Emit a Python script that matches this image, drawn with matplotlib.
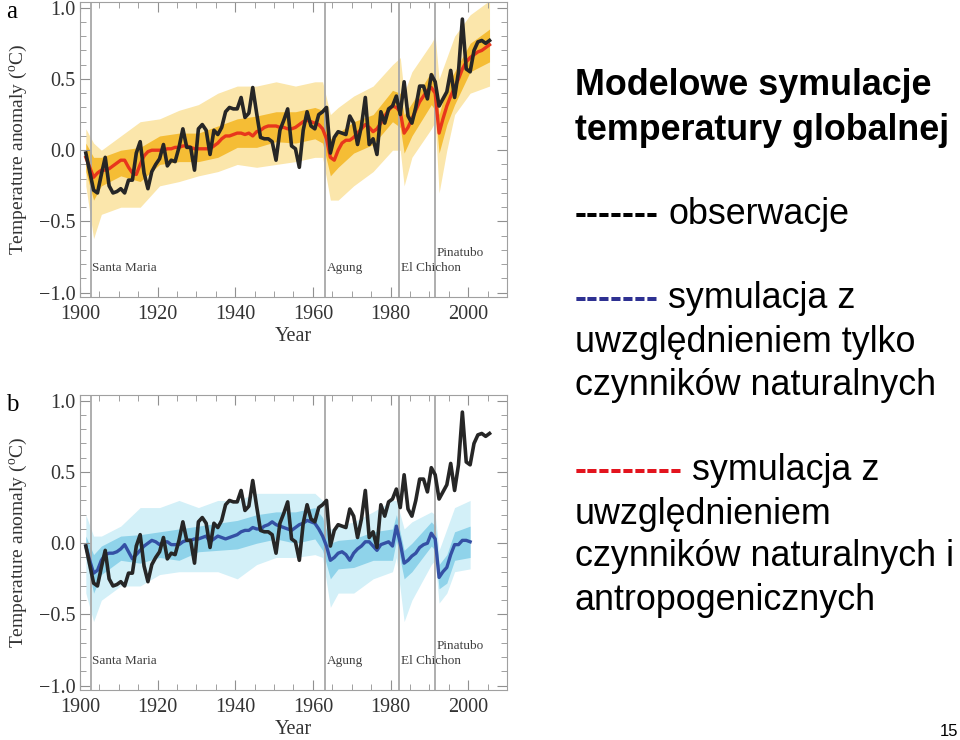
import matplotlib.pyplot as plt
import numpy as np
from matplotlib.ticker import MultipleLocator

plt.rcParams['font.family'] = ['Liberation Serif', 'DejaVu Serif']
plt.rcParams['mathtext.fontset'] = 'custom'
plt.rcParams['mathtext.rm'] = 'Liberation Serif'

# obserwacje (roczne anomalie), 1901-2005
years = np.arange(1901, 2006)
obs = [-0.02, -0.15, -0.28, -0.30, -0.17, -0.05, -0.25, -0.30, -0.29, -0.27,
       -0.30, -0.21, -0.21, -0.02, 0.06, -0.16, -0.27, -0.15, -0.10, -0.06,
       0.04, -0.11, -0.07, -0.08, 0.02, 0.15, 0.02, 0.02, -0.14, 0.15,
       0.18, 0.14, -0.03, 0.14, 0.11, 0.16, 0.27, 0.30, 0.29, 0.29,
       0.37, 0.23, 0.26, 0.44, 0.26, 0.09, 0.08, 0.08, 0.06, -0.07,
       0.14, 0.21, 0.29, 0.03, 0.01, -0.12, 0.14, 0.27, 0.17, 0.15,
       0.25, 0.27, 0.30, -0.02, 0.09, 0.13, 0.12, 0.11, 0.24, 0.19,
       0.04, 0.17, 0.37, 0.04, 0.08, -0.03, 0.27, 0.19, 0.29, 0.31,
       0.38, 0.25, 0.48, 0.24, 0.19, 0.30, 0.45, 0.45, 0.36, 0.53,
       0.48, 0.31, 0.36, 0.41, 0.56, 0.37, 0.55, 0.92, 0.57, 0.55,
       0.70, 0.76, 0.77, 0.75, 0.77]

# srednia symulacji: czynniki naturalne i antropogeniczne, 1901-2005
all_mean = [-0.05, -0.12, -0.19, -0.16, -0.14, -0.14, -0.13, -0.11, -0.09, -0.07,
            -0.07, -0.12, -0.16, -0.17, -0.10, -0.04, -0.01, 0.00, 0.00, 0.00,
            0.00, 0.01, 0.01, 0.02, 0.02, 0.03, 0.03, 0.02, 0.01, 0.01,
            0.01, 0.01, 0.01, 0.03, 0.05, 0.08, 0.10, 0.10, 0.11, 0.12,
            0.12, 0.11, 0.12, 0.10, 0.13, 0.14, 0.16, 0.17, 0.17, 0.17,
            0.16, 0.16, 0.15, 0.15, 0.16, 0.18, 0.20, 0.21, 0.20, 0.19,
            0.18, 0.15, 0.08, -0.05, -0.07, 0.00, 0.05, 0.07, 0.07, 0.09,
            0.12, 0.15, 0.18, 0.16, 0.13, 0.15, 0.19, 0.24, 0.28, 0.31,
            0.30, 0.27, 0.12, 0.16, 0.22, 0.28, 0.34, 0.38, 0.42, 0.44,
            0.40, 0.12, 0.22, 0.31, 0.38, 0.44, 0.50, 0.57, 0.62, 0.65,
            0.67, 0.69, 0.70, 0.72, 0.74]

# srednia symulacji: tylko czynniki naturalne, 1901-2000
nat_years = np.arange(1901, 2001)
nat_mean = [-0.02, -0.12, -0.21, -0.19, -0.12, -0.08, -0.07, -0.07, -0.06, -0.04,
            -0.01, -0.06, -0.11, -0.08, -0.05, -0.02, 0.00, 0.02, 0.01, -0.01,
            0.01, 0.01, -0.01, -0.01, -0.01, 0.01, 0.02, 0.02, 0.03, 0.03,
            0.04, 0.05, 0.01, 0.03, 0.05, 0.04, 0.03, 0.04, 0.05, 0.06,
            0.08, 0.09, 0.09, 0.11, 0.10, 0.10, 0.12, 0.13, 0.15, 0.13,
            0.12, 0.11, 0.10, 0.09, 0.11, 0.13, 0.14, 0.16, 0.15, 0.14,
            0.10, 0.05, -0.02, -0.12, -0.10, -0.07, -0.06, -0.08, -0.12, -0.07,
            -0.04, -0.02, 0.01, 0.01, -0.02, -0.05, -0.01, 0.00, 0.01, -0.02,
            0.12, 0.00, -0.14, -0.12, -0.09, -0.07, -0.03, -0.01, 0.00, 0.07,
            0.03, -0.24, -0.20, -0.17, -0.08, -0.01, -0.01, 0.02, 0.02, 0.01]

# rozrzut ensemble (zakres zewnetrzny i gesty rdzen)
all_env_years = [1901, 1903, 1905, 1910, 1915, 1920, 1925, 1930, 1935, 1940,
                 1945, 1950, 1955, 1960, 1962, 1964, 1966, 1970, 1975, 1980,
                 1982, 1983, 1985, 1990, 1991, 1992, 1994, 1996, 2000, 2005]
all_hi = [0.15, 0.05, 0.00, 0.10, 0.20, 0.22, 0.28, 0.32, 0.40, 0.45,
          0.45, 0.48, 0.45, 0.48, 0.48, 0.25, 0.30, 0.38, 0.45, 0.60,
          0.65, 0.40, 0.55, 0.75, 0.80, 0.50, 0.65, 0.80, 0.95, 1.05]
all_lo = [-0.25, -0.62, -0.45, -0.40, -0.40, -0.25, -0.22, -0.18, -0.15, -0.10,
          -0.12, -0.10, -0.08, -0.05, -0.05, -0.35, -0.35, -0.25, -0.15, 0.00,
          0.00, -0.25, -0.05, 0.15, 0.20, -0.30, 0.00, 0.25, 0.40, 0.45]
all_core_hi = [0.05, -0.05, -0.05, 0.00, 0.02, 0.10, 0.12, 0.12, 0.17, 0.22,
               0.24, 0.27, 0.27, 0.30, 0.28, 0.08, 0.12, 0.20, 0.25, 0.42,
               0.40, 0.25, 0.33, 0.55, 0.52, 0.25, 0.45, 0.55, 0.75, 0.85]
all_core_lo = [-0.15, -0.35, -0.25, -0.18, -0.22, -0.10, -0.08, -0.08, -0.05, 0.02,
               0.02, 0.06, 0.05, 0.08, 0.05, -0.18, -0.12, -0.02, 0.04, 0.20,
               0.16, -0.02, 0.10, 0.32, 0.28, -0.02, 0.18, 0.32, 0.55, 0.62]

nat_env_years = [1901, 1903, 1905, 1910, 1915, 1920, 1925, 1930, 1935, 1940,
                 1945, 1950, 1955, 1960, 1962, 1964, 1966, 1970, 1975, 1980,
                 1981, 1983, 1985, 1990, 1991, 1992, 1994, 1996, 2000]
nat_hi = [0.20, 0.05, 0.05, 0.12, 0.25, 0.25, 0.30, 0.25, 0.30, 0.30,
          0.35, 0.35, 0.35, 0.35, 0.30, 0.10, 0.12, 0.15, 0.22, 0.30,
          0.30, 0.10, 0.15, 0.22, 0.20, -0.05, 0.10, 0.25, 0.30]
nat_lo = [-0.35, -0.55, -0.40, -0.30, -0.30, -0.22, -0.20, -0.20, -0.20, -0.25,
          -0.15, -0.10, -0.10, -0.08, -0.10, -0.45, -0.35, -0.35, -0.25, -0.20,
          -0.10, -0.55, -0.40, -0.15, -0.12, -0.42, -0.35, -0.20, -0.18]
nat_core_hi = [0.05, -0.08, -0.02, 0.05, 0.06, 0.08, 0.10, 0.12, 0.14, 0.16,
               0.20, 0.22, 0.22, 0.25, 0.18, 0.00, 0.02, 0.03, 0.08, 0.10,
               0.20, -0.05, 0.00, 0.15, 0.12, -0.15, -0.08, 0.08, 0.12]
nat_core_lo = [-0.10, -0.35, -0.22, -0.12, -0.14, -0.10, -0.12, -0.06, -0.05, -0.04,
               0.00, 0.03, 0.00, 0.03, -0.05, -0.25, -0.18, -0.17, -0.12, -0.12,
               0.02, -0.25, -0.20, -0.02, -0.05, -0.32, -0.28, -0.12, -0.10]

# erupcje wulkanow
volc_names = ['Santa Maria', 'Agung', 'El Chichon', 'Pinatubo']
volc_dates = [1902.8, 1963.2, 1982.3, 1991.5]
volc_label_y = [-0.83, -0.83, -0.83, -0.72]


def draw_panel(ax, mean_years, mean, mean_color, env, env_colors):
    env_years, lo, hi, core_lo, core_hi = env
    ax.fill_between(np.array(env_years) + 0.5, lo, hi, color=env_colors[0],
                    lw=0, zorder=1)
    ax.fill_between(np.array(env_years) + 0.5, core_lo, core_hi,
                    color=env_colors[1], lw=0, zorder=1.2)
    for name, d, ly in zip(volc_names, volc_dates, volc_label_y):
        ax.axvline(d, color='#a8a8a8', lw=1.3, zorder=2)
        ax.text(d + 0.3, ly, name, fontsize=9.5, color='#404040',
                ha='left', va='center')
    # roczne wartosci rysowane w polowie roku
    ax.plot(mean_years + 0.5, mean, color=mean_color, lw=2.4, zorder=3)
    ax.plot(years + 0.5, obs, color='#262626', lw=2.6, zorder=4)

    ax.set_xlim(1900, 2010)
    ax.set_ylim(-1.03, 1.04)
    ax.xaxis.set_major_locator(MultipleLocator(20))
    ax.xaxis.set_minor_locator(MultipleLocator(5))
    ax.yaxis.set_minor_locator(MultipleLocator(0.1))
    ax.set_yticks([-1.0, -0.5, 0.0, 0.5, 1.0])
    ax.set_yticklabels(['\u22121.0', '\u22120.5', '0.0', '0.5', '1.0'])
    ax.tick_params(which='both', direction='in', top=True, right=True,
                   color='#909090', labelsize=14.5, labelcolor='#333333')
    ax.tick_params(which='major', length=7)
    ax.tick_params(which='minor', length=4)
    ax.tick_params(axis='x', which='major', pad=6)
    for s in ax.spines.values():
        s.set_color('#a0a0a0')
    ax.set_xlabel('Year', fontsize=14.5, color='#333333', labelpad=2)
    ax.set_ylabel('Temperature anomaly ($^{\\rm o}$C)', fontsize=14,
                  color='#333333', labelpad=6)


fig = plt.figure(figsize=(9.6, 7.4), dpi=100)

ax_a = fig.add_axes([80 / 960, 1 - 297 / 740, 427 / 960, 295 / 740])
draw_panel(ax_a, years, all_mean, '#e8361c',
           (all_env_years, all_lo, all_hi, all_core_lo, all_core_hi),
           ('#fbe6ab', '#f5bd35'))

ax_b = fig.add_axes([80 / 960, 1 - 690 / 740, 427 / 960, 295 / 740])
draw_panel(ax_b, nat_years, nat_mean, '#3450a4',
           (nat_env_years, nat_lo, nat_hi, nat_core_lo, nat_core_hi),
           ('#d3f0f8', '#8fd3ea'))

fig.text(12 / 960, 1 - 12 / 740, 'a', fontsize=18, ha='center', va='center')
fig.text(12 / 960, 1 - 405 / 740, 'b', fontsize=18, ha='center', va='center')

# opis po prawej stronie
sans = 'Liberation Sans'
fs = 25.8


def ftxt(x_px, base_px, s, **kw):
    fig.text(x_px / 960, 1 - base_px / 740, s, fontsize=fs, family=sans,
             va='baseline', ha='left', **kw)


ftxt(575, 95, 'Modelowe symulacje', weight='bold')
ftxt(575, 140, 'temperatury globalnej', weight='bold')

ftxt(575, 224, '-------', color='black', weight='bold')
ftxt(668, 224, 'obserwacje')

ftxt(575, 308, '-------', color='#2e3192', weight='bold')
ftxt(668, 308, 'symulacja z')
ftxt(575, 352, 'uwzględnieniem tylko')
ftxt(575, 395, 'czynników naturalnych')

ftxt(575, 480, '---------', color='#e3141e', weight='bold')
ftxt(692, 480, 'symulacja z')
ftxt(575, 524, 'uwzględnieniem')
ftxt(575, 566, 'czynników naturalnych i')
ftxt(575, 610, 'antropogenicznych')

fig.text(949 / 960, 1 - 731 / 740, '15', fontsize=12, family=sans,
         ha='center', va='center')

fig.savefig('out.png', dpi=100)
